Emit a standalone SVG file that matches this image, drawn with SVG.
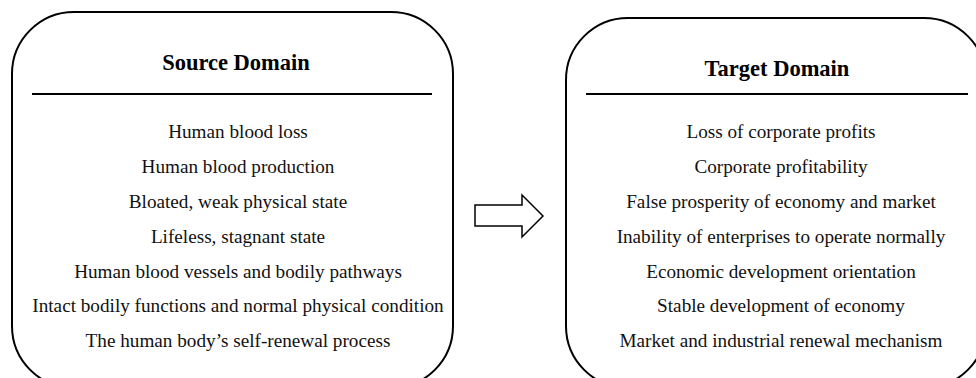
<svg xmlns="http://www.w3.org/2000/svg" width="976" height="378" viewBox="0 0 976 378">
<style>
.box{fill:#fff;stroke:#000;stroke-width:2}
.rule{stroke:#000;stroke-width:2}
.title{font-family:"Liberation Serif","Times New Roman",serif;font-weight:bold;font-size:22.5px;text-anchor:middle;fill:#000}
.item{font-family:"Liberation Serif","Times New Roman",serif;font-size:19.2px;text-anchor:middle;fill:#111}
</style>
<rect width="976" height="378" fill="#fff"/>
<g id="source">
<rect class="box" x="12" y="12" width="441" height="376" rx="62" ry="62"/>
<text class="title" x="236" y="70">Source Domain</text>
<line class="rule" x1="32" y1="94" x2="432" y2="94"/>
<text class="item" x="238" y="138">Human blood loss</text>
<text class="item" x="238" y="173">Human blood production</text>
<text class="item" x="238" y="208">Bloated, weak physical state</text>
<text class="item" x="238" y="243">Lifeless, stagnant state</text>
<text class="item" x="238" y="278">Human blood vessels and bodily pathways</text>
<text class="item" x="238" y="312">Intact bodily functions and normal physical condition</text>
<text class="item" x="238" y="347">The human body’s self-renewal process</text>
</g>
<g id="target">
<rect class="box" x="566" y="18" width="420" height="370" rx="62" ry="62"/>
<text class="title" x="777" y="76">Target Domain</text>
<line class="rule" x1="586" y1="94" x2="968" y2="94"/>
<text class="item" x="781" y="138">Loss of corporate profits</text>
<text class="item" x="781" y="173">Corporate profitability</text>
<text class="item" x="781" y="208">False prosperity of economy and market</text>
<text class="item" x="781" y="243">Inability of enterprises to operate normally</text>
<text class="item" x="781" y="278">Economic development orientation</text>
<text class="item" x="781" y="312">Stable development of economy</text>
<text class="item" x="781" y="347">Market and industrial renewal mechanism</text>
</g>
<g id="connectors">
<polygon points="475,205 522,205 522,195 543,216 522,237 522,226 475,226" fill="#fff" stroke="#000" stroke-width="1.5"/>
</g>
</svg>
